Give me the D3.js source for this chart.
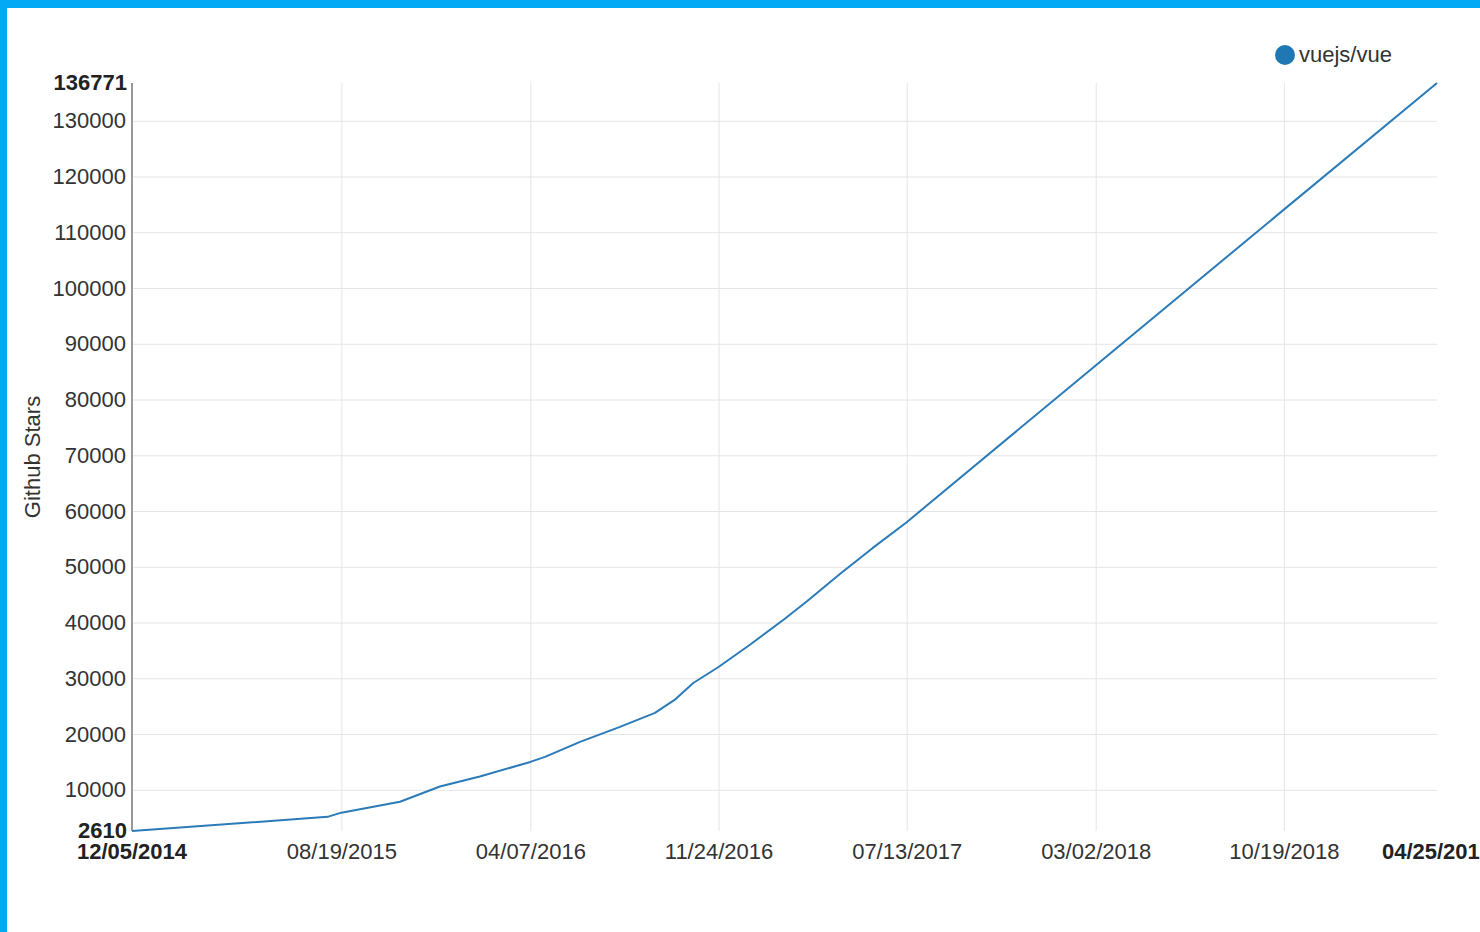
<!DOCTYPE html>
<html>
<head>
<meta charset="utf-8">
<script src="https://cdn.jsdelivr.net/npm/d3@7/dist/d3.min.js"></script>
<style>
  html, body { margin: 0; padding: 0; background: #fff; overflow: hidden; }
  svg { display: block; font-family: "Liberation Sans", Arial, sans-serif; }
</style>
</head>
<body>
<svg id="chart" width="1480" height="932"></svg>
<script>
// ---- data ----
const seriesName = "vuejs/vue";
const dates = [
  "2014-12-05", "2015-08-02", "2015-08-19", "2015-10-30", "2015-12-18",
  "2016-02-05", "2016-04-07", "2016-04-25", "2016-06-07", "2016-07-26",
  "2016-09-07", "2016-10-01", "2016-10-24", "2016-11-24", "2017-01-02",
  "2017-02-13", "2017-03-13", "2017-04-22", "2017-06-01", "2017-07-13",
  "2018-03-02", "2018-10-19", "2019-04-25"
];
const stars = [
  2610, 5150, 5900, 7850, 10590,
  12380, 15000, 15900, 18600, 21280,
  23800, 26120, 29160, 32030, 36060,
  40630, 43850, 48690, 53340, 58000,
  86100, 114060, 136771
];
const xTickLabels = ["08/19/2015", "04/07/2016", "11/24/2016", "07/13/2017", "03/02/2018", "10/19/2018"];
const yTickValues = [10000, 20000, 30000, 40000, 50000, 60000, 70000, 80000, 90000, 100000, 110000, 120000, 130000];
const yTitle = "Github Stars";

// ---- layout ----
const svg = d3.select("#chart");
const W = 1480, H = 932;
const pL = 132, pR = 1437, pT = 83, pB = 831;
const parseISO = d3.timeParse("%Y-%m-%d");
const parseUS = d3.timeParse("%m/%d/%Y");
const fmt = d3.timeFormat("%m/%d/%Y");

const data = dates.map((d, i) => ({ date: parseISO(d), value: stars[i] }));
const xMin = data[0].date, xMax = data[data.length - 1].date;
const yMin = d3.min(stars), yMax = d3.max(stars);

const x = d3.scaleTime().domain([xMin, xMax]).range([pL, pR]);
const y = d3.scaleLinear().domain([yMin, yMax]).range([pB, pT]);

// background + blue frame
svg.append("rect").attr("width", W).attr("height", H).attr("fill", "#03a9f4");
svg.append("rect").attr("x", 7).attr("y", 8).attr("width", W - 7).attr("height", H - 8).attr("fill", "#fff");

// Y grid + axis
const yAxis = d3.axisLeft(y).tickValues(yTickValues).tickSize(-(pR - pL)).tickPadding(6).tickFormat(d3.format("d"));
const gy = svg.append("g").attr("transform", `translate(${pL},0)`).call(yAxis);
gy.select(".domain").remove();
gy.selectAll(".tick line").attr("stroke", "#e5e5e5").attr("stroke-width", 1);
gy.selectAll(".tick text").attr("fill", "#333").style("font-size", "22px");
// y max/min
[yMax, yMin].forEach(v => {
  svg.append("text").attr("x", pL - 5).attr("y", y(v)).attr("dy", "0.32em")
    .attr("text-anchor", "end").attr("font-weight", "bold").attr("fill", "#222")
    .style("font-size", "22px").text(v);
});

// X grid + axis
const xAxis = d3.axisBottom(x).tickValues(xTickLabels.map(parseUS)).tickSize(-(pB - pT)).tickPadding(12).tickFormat(fmt);
const gx = svg.append("g").attr("transform", `translate(0,${pB})`).call(xAxis);
gx.select(".domain").remove();
gx.selectAll(".tick line").attr("stroke", "#e5e5e5").attr("stroke-width", 1);
gx.selectAll(".tick text").attr("fill", "#333").style("font-size", "22px");
[xMin, xMax].forEach(d => {
  svg.append("text").attr("x", x(d)).attr("y", pB + 12).attr("dy", "0.71em")
    .attr("text-anchor", "middle").attr("font-weight", "bold").attr("fill", "#222")
    .style("font-size", "22px").text(fmt(d));
});
// y axis line above grid
svg.append("line").attr("x1", pL).attr("x2", pL).attr("y1", pT).attr("y2", pB)
  .attr("stroke", "#999").attr("stroke-width", 2);

// Y title
svg.append("text").attr("transform", `translate(40,${(pT + pB) / 2}) rotate(-90)`)
  .attr("text-anchor", "middle").attr("fill", "#333").style("font-size", "22px").text(yTitle);

// line
const line = d3.line().x(d => x(d.date)).y(d => y(d.value));
svg.append("path").datum(data).attr("d", line).attr("fill", "none")
  .attr("stroke", "#2b7bb9").attr("stroke-width", 2).attr("stroke-linejoin", "round");

// legend
svg.append("circle").attr("cx", 1285).attr("cy", 55).attr("r", 10).attr("fill", "#1f77b4");
svg.append("text").attr("x", 1299).attr("y", 55).attr("dy", "0.32em").attr("fill", "#333")
  .style("font-size", "22px").text(seriesName);
</script>
</body>
</html>
